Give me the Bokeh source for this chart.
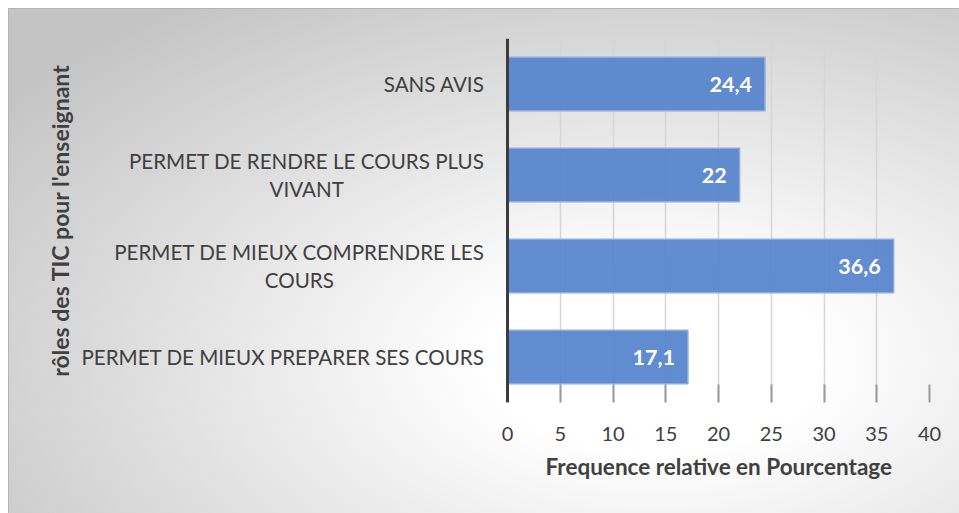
from bokeh.plotting import figure
from bokeh.models import FixedTicker, Range1d, FactorRange, ColumnDataSource, Span, Title
from bokeh.core.properties import value
from bokeh.embed import file_html
from bokeh.resources import INLINE

categories = ["PERMET DE MIEUX PREPARER SES COURS",
              "PERMET DE MIEUX COMPRENDRE LES COURS",
              "PERMET DE RENDRE LE COURS PLUS VIVANT",
              "SANS AVIS"]
display_labels = ["PERMET DE MIEUX PREPARER SES COURS",
                  "PERMET DE MIEUX COMPRENDRE LES\nCOURS",
                  "PERMET DE RENDRE LE COURS PLUS\nVIVANT",
                  "SANS AVIS"]
values = [17.1, 36.6, 22.0, 24.4]
value_labels = ["17,1", "36,6", "22", "24,4"]
x_ticks = [0, 5, 10, 15, 20, 25, 30, 35, 40]
x_max = 40

FONT = "Lato"
TXT = "#404040"

# layout (page pixels): frame spans 78..929, value 0 sits at 507
FRAME_L, ZERO_PX, FRAME_R = 78, 507, 929
x_start = -(ZERO_PX - FRAME_L) / (FRAME_R - ZERO_PX) * x_max

src = ColumnDataSource(dict(cat=categories, val=values, lab=value_labels,
                            disp=display_labels, zero=[0] * len(values)))

p = figure(width=959, height=513, output_backend="svg", toolbar_location=None,
           y_range=FactorRange(factors=categories, range_padding=0),
           x_range=Range1d(x_start, x_max),
           min_border_left=FRAME_L, min_border_right=959 - FRAME_R,
           min_border_top=38, min_border_bottom=111)

p.border_fill_color = None
p.background_fill_color = None
p.outline_line_color = None
p.styles = {"background":
            "linear-gradient(#b4b4b4,#b4b4b4) 8px 8px / 951px 1px no-repeat, "
            "linear-gradient(#b4b4b4,#b4b4b4) 8px 8px / 1px 505px no-repeat, "
            "radial-gradient(ellipse at 68% 70%, #ffffff 0%, #ffffff 18%, #c4c4c4 88%) 8px 8px / 951px 505px no-repeat, "
            "#ffffff"}

p.xgrid.ticker = FixedTicker(ticks=x_ticks)
p.xgrid.grid_line_color = "#d6d6d6"
p.xgrid.grid_line_width = 1.5
p.ygrid.grid_line_color = None

p.hbar(y="cat", right="val", left=0, height=0.59, source=src,
       fill_color="#5583CC", fill_alpha=0.93, line_color="#8FAADC", line_width=1.5)

p.add_layout(Span(location=0, dimension="height", line_color="#3c3c3c", line_width=3))

p.text(x="val", y="cat", text="lab", source=src, x_offset=-13,
       text_align="right", text_baseline="middle", text_color="white",
       text_font=value(FONT), text_font_style="bold", text_font_size="21.5px")

cat_kw = dict(x="zero", y="cat", text="disp", source=src, x_offset=-23,
              text_baseline="middle", text_color=TXT, text_font=value(FONT),
              text_font_size="20.6px", text_line_height=1.18)
try:
    p.text(anchor="center_right", text_align="center", **cat_kw)
except Exception:
    p.text(text_align="right", **cat_kw)

xa = p.xaxis[0]
xa.ticker = FixedTicker(ticks=x_ticks)
xa.axis_line_color = None
xa.major_tick_in = 18
xa.major_tick_out = 0
xa.major_tick_line_color = "#9a9a9a"
xa.major_tick_line_width = 2
xa.minor_tick_line_color = None
xa.major_label_standoff = 24
xa.major_label_text_font = FONT
xa.major_label_text_font_size = "20px"
xa.major_label_text_color = TXT

p.add_layout(Title(text="Frequence relative en Pourcentage", align="left",
                   offset=545 - FRAME_L, text_font=FONT, text_font_style="bold",
                   text_font_size="22.5px", text_color=TXT, standoff=15), "below")

ya = p.yaxis[0]
ya.ticker = FixedTicker(ticks=[])
ya.axis_line_color = None
ya.major_tick_in = 0
ya.major_tick_out = 0
ya.minor_tick_line_color = None
ya.axis_label = "rôles des TIC pour l'enseignant"
ya.axis_label_text_font = FONT
ya.axis_label_text_font_style = "bold"
ya.axis_label_text_font_size = "23px"
ya.axis_label_text_color = TXT
ya.axis_label_standoff = 5

open("out.html", "w").write(file_html(p, INLINE))
